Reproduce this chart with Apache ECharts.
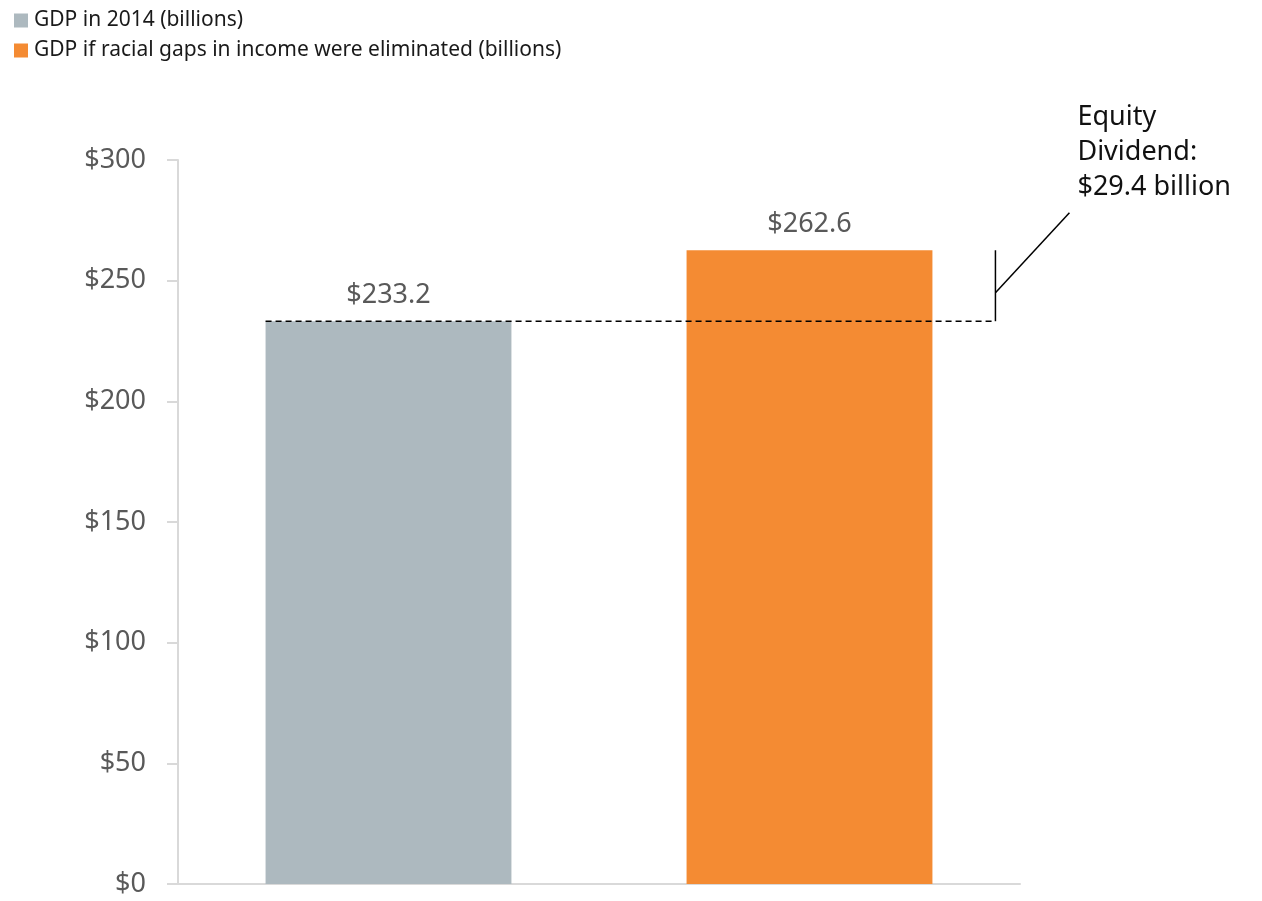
<!DOCTYPE html>
<html>
<head>
<meta charset="utf-8">
<script src="https://cdn.jsdelivr.net/npm/echarts@6/dist/echarts.min.js"></script>
<style>
html,body{margin:0;padding:0;background:#fff;}
#main{width:1262px;height:901px;}
</style>
</head>
<body>
<div id="main"></div>
<script>
// 数据
var categories = ['GDP in 2014', 'GDP if racial gaps in income were eliminated'];
var seriesNames = ['GDP in 2014 (billions)', 'GDP if racial gaps in income were eliminated (billions)'];
var gdpNow = [233.2, '-'];
var gdpEquity = ['-', 262.6];
var yTicks = [0, 50, 100, 150, 200, 250, 300];
var dividendText = ['Equity', 'Dividend:', '$29.4 billion'];

var fontName = '"Noto Sans", "Open Sans", sans-serif';
var chart = echarts.init(document.getElementById('main'));

function barLabel() {
	return {
		show: true,
		position: 'top',
		distance: 12,
		fontSize: 27,
		fontFamily: fontName,
		color: '#595959',
		formatter: function (p) { return '$' + p.value.toFixed(1); }
	};
}

var option = {
	animation: false,
	color: ['#adb9bf', '#f48b33'],
	legend: {
		orient: 'vertical',
		left: 14,
		top: 10,
		padding: 0,
		icon: 'rect',
		itemWidth: 14,
		itemHeight: 14,
		itemGap: 9,
		textStyle: { fontSize: 21, fontFamily: fontName, color: '#1a1a1a', padding: [0, 0, 0, 1] },
		data: seriesNames
	},
	grid: { left: 178, right: 242, top: 160, bottom: 17 },
	xAxis: {
		type: 'category',
		data: categories,
		axisLine: { lineStyle: { color: '#d9d9d9', width: 2 } },
		axisTick: { show: false },
		axisLabel: { show: false }
	},
	yAxis: {
		type: 'value',
		min: yTicks[0],
		max: yTicks[yTicks.length - 1],
		interval: 50,
		axisLine: { show: true, lineStyle: { color: '#d9d9d9', width: 2 } },
		axisTick: { show: true, length: 11, lineStyle: { color: '#d9d9d9', width: 2 } },
		splitLine: { show: false },
		axisLabel: {
			fontSize: 27,
			fontFamily: fontName,
			color: '#595959',
			margin: 32,
			formatter: function (v) { return '$' + v; }
		}
	},
	series: [
		{
			name: seriesNames[0],
			type: 'bar',
			data: gdpNow,
			barWidth: '58.4%',
			barGap: '-100%',
			label: barLabel()
		},
		{
			name: seriesNames[1],
			type: 'bar',
			data: gdpEquity,
			barWidth: '58.4%',
			label: barLabel()
		}
	]
};
chart.setOption(option);

// 标注: 虚线 + 括号 + 斜线 + 文本
function drawNote() {
	var base = chart.convertToPixel({ gridIndex: 0 }, [0, gdpNow[0]]);
	var top = chart.convertToPixel({ gridIndex: 0 }, [1, gdpEquity[1]]);
	var cat0 = chart.convertToPixel({ xAxisIndex: 0 }, 0);
	var cat1 = chart.convertToPixel({ xAxisIndex: 0 }, 1);
	var step = cat1 - cat0;
	var half = step * 0.584 / 2;
	var startX = cat0 - half;
	var bx = cat1 + half + 63;
	var y0 = base[1];
	var y1 = top[1];
	var midY = y0 - (y0 - y1) * 0.4;
	var tx = bx + 82;
	chart.setOption({
		graphic: [
			{ type: 'line', shape: { x1: startX, y1: y0, x2: bx, y2: y0 },
				style: { stroke: '#000', lineWidth: 1.5, lineDash: [6, 4] }, z: 10 },
			{ type: 'line', shape: { x1: bx, y1: y0, x2: bx, y2: y1 },
				style: { stroke: '#000', lineWidth: 1.5 }, z: 10 },
			{ type: 'line', shape: { x1: bx, y1: midY, x2: bx + 74, y2: midY - 80 },
				style: { stroke: '#000', lineWidth: 1.5 }, z: 10 },
			{ type: 'text', left: tx, top: 100,
				style: { text: dividendText.join('\n'), fontSize: 27, lineHeight: 35,
					fontFamily: fontName, fill: '#111' } }
		]
	});
}
drawNote();
</script>
</body>
</html>
